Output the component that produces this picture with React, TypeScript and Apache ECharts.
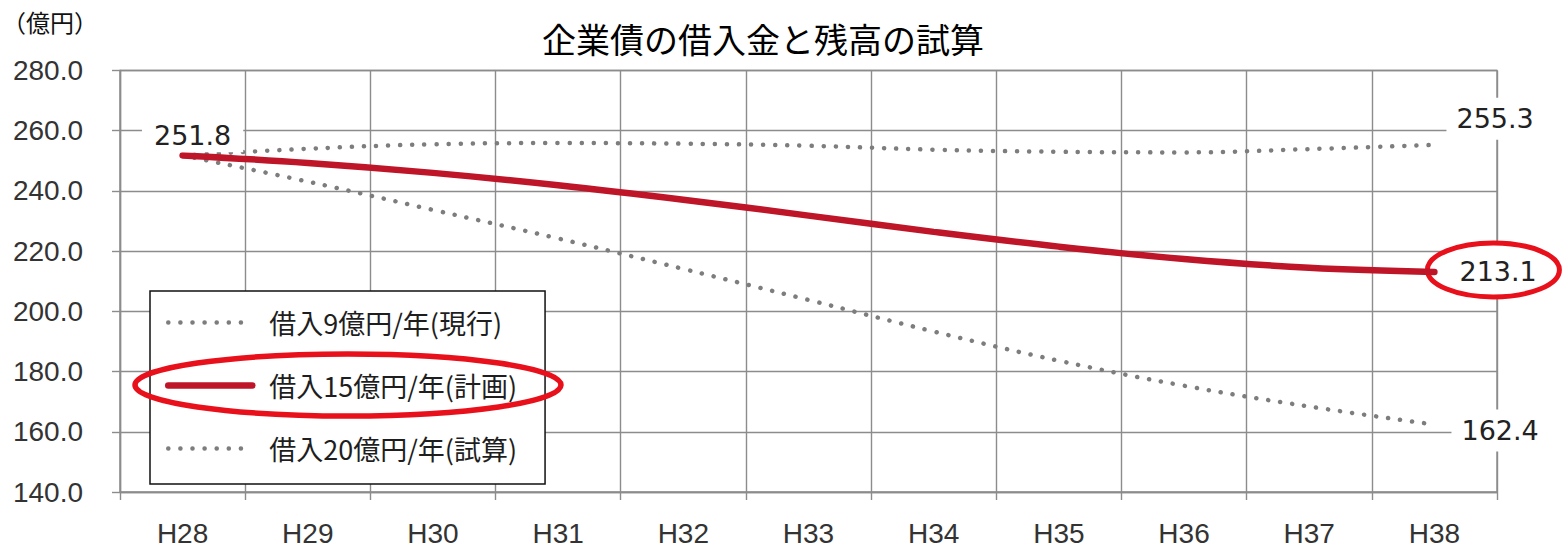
import React, { useEffect, useRef } from "react";
import * as echarts from "echarts";

// Fiscal years on the horizontal axis
const years = ["H28", "H29", "H30", "H31", "H32", "H33", "H34", "H35", "H36", "H37", "H38"];

// Outstanding balance (億円) under each borrowing scenario
const current9 = [251.8, 254.0, 255.5, 255.9, 255.7, 255.0, 253.7, 253.0, 252.8, 253.9, 255.3];
const plan15 = [251.8, 249.3, 246.0, 241.9, 237.1, 231.8, 226.4, 221.5, 217.4, 214.5, 213.1];
const trial20 = [251.8, 243.1, 233.7, 224.2, 214.1, 203.8, 193.3, 183.6, 175.3, 168.4, 162.4];

const seriesNames = ["借入9億円/年(現行)", "借入15億円/年(計画)", "借入20億円/年(試算)"];

const yMin = 140;
const yMax = 280;
const yStep = 20;

const GRID = "#8c8c8c";
const DOT = "#7d7d7d";
const RED = "#bf1528";
const MARK = "#e8101a";

const labelFont = {
  fontFamily: "DejaVu Sans",
  fontSize: 27,
  color: "#222",
  lineHeight: 30,
};

function withLabels(values: number[], first: any, last: any) {
  return values.map((v, i) => {
    if (i === 0 && first) return { value: v, label: first };
    if (i === values.length - 1 && last) return { value: v, label: last };
    return v;
  });
}

const dotted = {
  color: DOT,
  width: 4.5,
  type: [0.1, 12],
  cap: "round",
};

const redLine = { color: RED, width: 6.5, cap: "round" };

export default function App() {
  const ref = useRef<HTMLDivElement>(null);

  useEffect(() => {
    if (!ref.current) return;
    const chart = echarts.init(ref.current, null, { renderer: "svg" });
    const last = years.length - 1;

    const fmt = (p: any) => Number(p.value).toFixed(1);

    const option: any = {
      animation: false,
      backgroundColor: "#fff",
      title: [
        {
          text: "企業債の借入金と残高の試算",
          left: 542,
          top: 21,
          padding: 0,
          textStyle: {
            fontFamily: "Noto Sans CJK JP",
            fontSize: 34,
            fontWeight: "normal",
            color: "#000",
          },
        },
        {
          text: "（億円）",
          left: 2,
          top: 9,
          padding: 0,
          textStyle: {
            fontFamily: "Noto Sans CJK JP",
            fontSize: 24,
            fontWeight: "normal",
            color: "#111",
          },
        },
      ],
      grid: {
        left: 120,
        right: 66,
        top: 70.5,
        bottom: 49.5,
        show: true,
        borderColor: GRID,
        borderWidth: 1.4,
      },
      legend: {
        orient: "vertical",
        left: 150,
        top: 291,
        padding: [18, 28, 22, 15],
        itemGap: 36,
        itemWidth: 84,
        itemHeight: 30,
        backgroundColor: "#fff",
        borderColor: "#111",
        borderWidth: 1.5,
        data: [
          { name: seriesNames[0], itemStyle: { opacity: 0 }, lineStyle: { ...dotted } },
          { name: seriesNames[1], itemStyle: { opacity: 0 }, lineStyle: { ...redLine } },
          { name: seriesNames[2], itemStyle: { opacity: 0 }, lineStyle: { ...dotted } },
        ],
        textStyle: {
          fontFamily: "Noto Sans CJK JP",
          fontSize: 27,
          color: "#1e1e1e",
          padding: [0, 0, 0, 12],
        },
      },
      xAxis: {
        type: "category",
        data: years,
        boundaryGap: true,
        axisLine: { show: true, lineStyle: { color: GRID, width: 1.4 } },
        axisTick: { show: true, length: 8, lineStyle: { color: GRID, width: 1.4 } },
        splitLine: { show: true, lineStyle: { color: GRID, width: 1.4 } },
        axisLabel: {
          margin: 27,
          fontFamily: "Liberation Sans",
          fontSize: 28,
          color: "#333",
        },
      },
      yAxis: {
        type: "value",
        min: yMin,
        max: yMax,
        interval: yStep,
        axisLine: { show: true, lineStyle: { color: GRID, width: 1.4 } },
        axisTick: { show: true, length: 8, lineStyle: { color: GRID, width: 1.4 } },
        splitLine: { show: true, lineStyle: { color: GRID, width: 1.4 } },
        axisLabel: {
          margin: 37,
          fontFamily: "Liberation Sans",
          fontSize: 28,
          color: "#333",
          formatter: (v: number) => v.toFixed(1),
        },
      },
      series: [
        {
          name: seriesNames[0],
          type: "line",
          smooth: 0.4,
          symbol: "circle",
          symbolSize: 0.1,
          showSymbol: true,
          z: 2,
          itemStyle: { color: DOT },
          lineStyle: dotted,
          data: withLabels(current9, null, {
            show: true,
            position: "right",
            distance: 12,
            offset: [0, -26],
            backgroundColor: "#fff",
            padding: [6, 10],
            ...labelFont,
            formatter: fmt,
          }),
        },
        {
          name: seriesNames[1],
          type: "line",
          smooth: 0.4,
          symbol: "circle",
          symbolSize: 0.1,
          showSymbol: true,
          z: 4,
          itemStyle: { color: RED },
          lineStyle: redLine,
          data: withLabels(
            plan15,
            {
              show: true,
              position: "top",
              distance: 3,
              offset: [10, 0],
              backgroundColor: "#fff",
              padding: [2, 12],
              ...labelFont,
              formatter: fmt,
            },
            {
              show: true,
              position: "right",
              distance: 25,
              ...labelFont,
              formatter: fmt,
            }
          ),
        },
        {
          name: seriesNames[2],
          type: "line",
          smooth: 0.4,
          symbol: "circle",
          symbolSize: 0.1,
          showSymbol: true,
          z: 2,
          itemStyle: { color: DOT },
          lineStyle: dotted,
          data: withLabels(trial20, null, {
            show: true,
            position: "right",
            distance: 17,
            offset: [0, 6],
            backgroundColor: "#fff",
            padding: [6, 10],
            ...labelFont,
            formatter: fmt,
          }),
        },
      ],
    };

    chart.setOption(option);

    // Highlight rings: one around the planned scenario's final value, one around its legend entry
    const end = chart.convertToPixel({ xAxisIndex: 0, yAxisIndex: 0 }, [last, plan15[last]]) as number[];
    chart.setOption({
      graphic: [
        {
          type: "ellipse",
          z: 1,
          shape: { cx: end[0] + 59, cy: end[1] - 2, rx: 66, ry: 27 },
          style: { fill: "#fff", stroke: MARK, lineWidth: 5 },
        },
        {
          type: "ellipse",
          z: 100,
          shape: { cx: 348, cy: 385, rx: 213, ry: 31 },
          style: { fill: "none", stroke: MARK, lineWidth: 5.5 },
        },
      ],
    });

    return () => chart.dispose();
  }, []);

  return (
    <div
      ref={ref}
      style={{ position: "fixed", left: 0, top: 0, width: 1563, height: 547, background: "#fff" }}
    />
  );
}
